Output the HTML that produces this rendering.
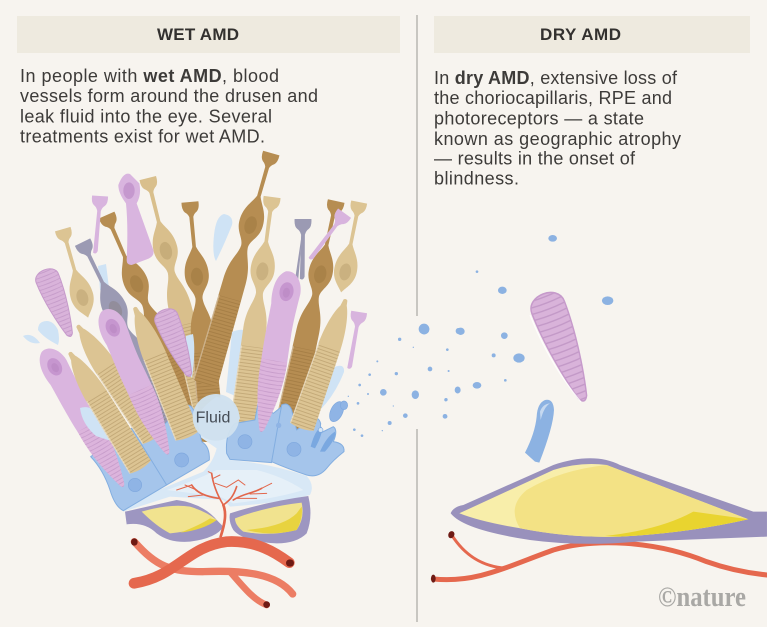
<!DOCTYPE html>
<html><head><meta charset="utf-8"><style>
html,body{margin:0;padding:0;background:#f7f4ef}
svg{display:block}
text{font-family:"Liberation Sans",sans-serif;fill:#3d3b39}
.b{font-size:18px}
.h{font-size:17px;font-weight:bold;fill:#33312f}
</style></head><body>
<svg width="767" height="627" viewBox="0 0 767 627" xmlns="http://www.w3.org/2000/svg">
<defs>
<pattern id="rib" patternUnits="userSpaceOnUse" width="30" height="3.4" x="-15" y="0"><rect width="30" height=".9" fill="#6b4a18" opacity=".24"/></pattern>
<pattern id="ribp" patternUnits="userSpaceOnUse" width="40" height="4" x="-20" y="0"><path d="M0,.5Q20,3.6 40,.5" fill="none" stroke="#a678b0" stroke-width=".8" opacity=".45"/></pattern>
<g id="s"><path fill="currentColor" d="M-8.5,-1L8.5,-1Q9,6 6,9Q3,11 2,14L1.8,44C5,52 12,58 12,72C12,84 4,90 0,96C-4,90 -12,84 -12,72C-12,58 -5,52 -1.8,44L-2,14Q-3,11 -6,9Q-9,6 -8.5,-1Z"/><ellipse cy="74" rx="6" ry="9" fill="#5a3d10" opacity=".14"/></g>
<g id="f"><path fill="currentColor" d="M-8.5,-1L8.5,-1Q9,6 6,9Q3,11 2,14L1.8,44C5,52 12,58 12,72C12,84 4,88 3.5,96C4,106 11,112 11.5,132L12.5,238Q0,242 -12.5,238L-11.5,132C-11,112 -4,106 -3.5,96C-4,88 -12,84 -12,72C-12,58 -5,52 -1.8,44L-2,14Q-3,11 -6,9Q-9,6 -8.5,-1Z"/><ellipse cy="74" rx="6" ry="9" fill="#5a3d10" opacity=".14"/><path d="M-11.5,150L11.5,150L12.5,238Q0,242 -12.5,238Z" fill="url(#rib)"/><path d="M-11,150L-12,238" stroke="#fff" stroke-opacity=".35" stroke-width="1.3"/></g>
<g id="t"><path fill="currentColor" d="M-2,0Q0,-2 2,0L3,5C6,10 11,26 11.5,50L12.5,134Q0,138 -12.5,134L-11.5,50C-11,30 -7,14 -3,7Z"/><path d="M-11.5,50L11.5,50L12.5,134Q0,138 -12.5,134Z" fill="url(#rib)"/><path d="M-11,50L-12,134" stroke="#fff" stroke-opacity=".4" stroke-width="1.2"/></g>
<g id="p"><path fill="#dab5df" d="M-4,0C6,-3 14,8 14,20C13,34 12,45 12,60L13,92L-13,92C-14,70 -13,45 -13,34C-15,22 -14,6 -4,0Z"/><path d="M-13,90L13,90C14,115 8,140 2,160Q-1,165 -3,160C-9,140 -14,115 -13,90Z" fill="#dcb4dc"/><path d="M-13,90L13,90C14,115 8,140 2,160Q-1,165 -3,160C-9,140 -14,115 -13,90Z" fill="url(#ribp)"/><ellipse cx="0" cy="20" rx="7" ry="9.5" fill="#c696cf"/><ellipse cx="0" cy="21" rx="3.5" ry="5" fill="#b684c0" opacity=".5"/></g>
<g id="c"><path fill="#d9b3da" d="M-12,9C-12,-3 12,-3 12,9C12,30 7,55 3,69Q0,74 -3,69C-7,55 -12,30 -12,9Z"/><path fill="url(#ribp)" d="M-12,9C-12,-3 12,-3 12,9C12,30 7,55 3,69Q0,74 -3,69C-7,55 -12,30 -12,9Z"/><path fill="none" stroke="#c69acb" stroke-width="1" d="M-12,9C-12,-3 12,-3 12,9C12,30 7,55 3,69Q0,74 -3,69C-7,55 -12,30 -12,9Z"/></g>
<g id="n"><path fill="currentColor" d="M-8,-1L8,-1Q8.5,6 5.5,8.5Q3,10 1.8,14L1.5,54Q0,58 -3,56L-1.8,14Q-3,10 -5.5,8.5Q-8.5,6 -8,-1Z"/></g>
</defs>
<rect width="767" height="627" fill="#f7f4ef"/>
<rect x="17" y="16" width="383" height="37" fill="#eeeadf"/>
<rect x="434" y="16" width="316" height="37" fill="#eeeadf"/>
<rect x="416" y="15" width="2" height="301" fill="#c8c6c1"/>
<rect x="416" y="429" width="2" height="193" fill="#c8c6c1"/>
<text class="h" x="157" y="40" textLength="82">WET AMD</text>
<text class="h" x="540" y="40" textLength="81">DRY AMD</text>
<text class="b" x="20" y="82" textLength="259">In people with <tspan font-weight="bold">wet AMD</tspan>, blood</text>
<text class="b" x="20" y="102" textLength="298">vessels form around the drusen and</text>
<text class="b" x="20" y="122.5" textLength="252">leak fluid into the eye. Several</text>
<text class="b" x="20" y="142.5" textLength="245">treatments exist for wet AMD.</text>
<text class="b" x="434" y="84" textLength="243">In <tspan font-weight="bold">dry AMD</tspan>, extensive loss of</text>
<text class="b" x="434" y="104" textLength="238">the choriocapillaris, RPE and</text>
<text class="b" x="434" y="124.5" textLength="210">photoreceptors — a state</text>
<text class="b" x="434" y="145" textLength="247">known as geographic atrophy</text>
<text class="b" x="434" y="164.5" textLength="201">— results in the onset of</text>
<text class="b" x="434" y="184.5" textLength="85">blindness.</text>

<!-- pale drops behind -->
<g fill="#cfe3f5">
<path d="M224,214Q234,216 232,225Q224,245 216,261Q212,255 214,235Q216,216 224,214Z"/>
<path d="M23,336Q32,332 40,343Q30,345 23,336ZM42,322Q52,318 58,330Q60,340 58,345Q44,338 38,330Q38,324 42,322Z"/>
<path d="M98,266L106,264Q108,280 110,296L100,290Z"/>
</g>

<!-- back cells -->
<use href="#f" transform="translate(83,243) rotate(-26)" color="#9b9ab3"/>
<use href="#f" transform="translate(107,216) rotate(-23.6)" color="#b68d52"/>
<use href="#f" transform="translate(148,179) rotate(-14)" color="#d9bf8c"/>
<use href="#f" transform="translate(190,203) rotate(-5.4)" color="#b68d52"/>
<path d="M186,336L193,334Q196,350 192,378L186,370Z" fill="#cfe3f5"/>
<use href="#f" transform="translate(271,154) rotate(16)" color="#b68d52"/>
<path d="M232,332Q246,326 252,336Q254,345 250,360L245,400L226,392Z" fill="#cfe3f5"/>
<use href="#f" transform="translate(272,198) rotate(7.5)" color="#dcc493"/>
<use href="#f" transform="translate(336,202) rotate(12.3)" color="#b68d52"/>
<path d="M303,226L298,282L278,300Q262,345 256,420L270,420L292,300Z" fill="#9b9ab3"/>
<use href="#n" transform="translate(303,220) scale(1.05)" color="#9b9ab3"/>
<use href="#s" transform="translate(359,203) rotate(11.3) scale(.95)" color="#dcc493"/>
<use href="#s" transform="translate(63,230) rotate(-16) scale(.95)" color="#dcc493"/>
<use href="#n" transform="translate(100,197) rotate(4)" color="#d8b4de"/>
<use href="#n" transform="translate(344,214) rotate(36)" color="#d8b4de"/>
<use href="#n" transform="translate(359,313) rotate(9)" color="#d8b4de"/>
<g transform="translate(20,150) scale(.3333)"><path fill="#d9b5df" d="M295,105Q310,65 330,72L358,100Q365,135 350,160L400,300Q405,320 380,328L335,345Q320,345 320,330Q325,230 318,160Q295,130 295,105Z"/><ellipse cx="327" cy="122" rx="17" ry="25" fill="#c598ce"/></g>
<use href="#c" transform="translate(44,270) rotate(-21.8)"/>
<path d="M332,368Q345,362 344,372Q335,395 320,410L312,400Z" fill="#cfe3f5"/>

<!-- fluid + blue cells -->
<g transform="translate(70,390) scale(.3333)">
<path fill="#d8e8f6" d="M160,345Q290,290 400,245Q430,215 440,175L375,130Q365,70 440,20Q505,40 510,85Q480,120 470,190L480,210Q600,220 710,258Q735,285 720,315Q620,340 480,350L460,330L300,320L160,365Z"/>
<path fill="#e6f0f8" d="M290,300Q380,270 440,240L560,240Q640,260 700,300Q620,325 490,340L450,320Z"/>
<g fill="#a5c5eb" stroke="#83aee0" stroke-width="3" stroke-linejoin="round">
<path d="M62,200L118,160L185,115L225,130L290,285L160,362Q135,350 120,300Q100,240 62,200Z"/>
<path d="M185,115L215,100Q240,100 250,130L340,55Q360,30 375,70L395,155Q420,170 418,210L290,285Z"/>
<path d="M470,190Q465,130 495,100L555,90L565,35L610,70L635,50L605,218L480,208Z"/>
<path d="M635,45Q655,35 665,60L680,120L720,90Q745,75 752,100L750,130L770,120L790,110Q805,120 790,155Q825,160 822,185Q790,210 770,235Q745,265 710,255Q650,235 605,215Z"/>
</g>
<g fill="#8fb4e5" stroke="#7fa8de" stroke-width="2">
<circle cx="195" cy="285" r="20"/><circle cx="335" cy="210" r="21"/><circle cx="525" cy="155" r="21"/><circle cx="672" cy="178" r="21"/>
</g>
<path fill="#7aa8e0" d="M722,170Q735,120 755,110Q760,130 735,175ZM750,185Q770,140 795,125Q800,145 765,185Z"/>
<ellipse cx="800" cy="65" rx="18" ry="32" transform="rotate(25 800 65)" fill="#8fb4e5" stroke="#7fa8de" stroke-width="2"/>
<ellipse cx="822" cy="46" rx="11" ry="13" fill="#8fb4e5" stroke="#7fa8de" stroke-width="2"/>
<circle cx="626" cy="106" r="8" fill="#8fb4e5"/><circle cx="752" cy="120" r="7" fill="#d8e8f6" stroke="#7fa8de" stroke-width="2"/>
</g>

<!-- front cells -->
<use href="#t" transform="translate(78,326) rotate(-34)" color="#dcc493"/>
<use href="#t" transform="translate(345.5,300) rotate(19)" color="#dcc493"/>
<use href="#p" transform="translate(290,272) rotate(10)"/>
<use href="#p" transform="translate(105,310) rotate(-23.8) scale(.97)"/>
<use href="#t" transform="translate(135,308) rotate(-22.3) scale(1.03)" color="#dcc493"/>
<use href="#p" transform="translate(45,350) rotate(-30) scale(.97)"/>
<path d="M80,408Q92,404 100,418L114,442L96,436Q82,424 80,408Z" fill="#cfe3f5"/>
<use href="#t" transform="translate(70,353) rotate(-31.6)" color="#dcc493"/>
<use href="#c" transform="translate(163,310) rotate(-22)"/>

<g transform="translate(70,390) scale(.3333)">
<circle cx="438" cy="82" r="70" fill="#cfe1ee" opacity=".96"/>
<!-- lenses -->
<path fill="#9d96c1" d="M165,365L320,330Q400,340 445,395L460,410Q440,445 360,455Q300,460 260,430Q225,395 170,403Z"/>
<path fill="#f1e38f" d="M215,365Q300,340 360,350Q410,365 440,390Q400,420 300,430Q260,410 215,365Z"/>
<path fill="#e8d33f" d="M330,428Q390,405 420,385L440,390Q400,420 330,428Z"/>
<path fill="#9d96c1" d="M480,370Q590,335 715,318Q730,380 710,430Q680,460 620,460Q520,455 490,420Q475,395 480,370Z"/>
<path fill="#f1e38f" d="M495,385Q590,350 695,338Q705,385 680,420Q600,440 520,425Q495,405 495,385Z"/>
<path fill="#e8d33f" d="M530,420Q640,410 680,370L695,350Q700,385 680,420Q600,440 530,420Z"/>
<!-- capillaries -->
<g fill="none" stroke="#e2674c" stroke-linecap="round">
<path stroke-width="8" d="M452,440C465,400 470,370 460,345"/>
<path stroke-width="5" d="M460,345C445,320 430,290 425,250M460,345C480,330 490,320 500,290M490,330C520,310 550,310 575,295M445,325C410,320 380,310 365,285"/>
<path stroke-width="3" d="M425,250L415,245M436,280L470,292L505,270L525,285M575,295L605,280M500,325L560,325M540,312L590,310M365,285L320,300M400,315L355,320M380,300L345,285M430,265L450,255"/>
</g>
<!-- vessels -->
<g fill="none" stroke-linecap="round">
<path stroke="#ec7d64" stroke-width="22" d="M193,455C260,530 300,545 400,545C520,540 620,550 668,612"/>
<path stroke="#ec7d64" stroke-width="20" d="M480,545C520,590 550,630 590,645"/>
<path stroke="#e5684e" stroke-width="32" d="M192,580C320,560 350,470 470,455C560,450 620,490 658,518"/>
</g>
<g fill="#6e1a14"><ellipse cx="193" cy="456" rx="10" ry="11"/><ellipse cx="660" cy="519" rx="12" ry="11"/><ellipse cx="590" cy="644" rx="10" ry="10"/></g>
</g>
<text x="213" y="422.5" text-anchor="middle" font-size="16" style="fill:#454c55">Fluid</text>

<!-- droplets -->
<g transform="translate(330,280) scale(.3333)" fill="#8cb2e2">
<circle cx="283" cy="148" r="15"/><ellipse cx="385" cy="153" rx="8" ry="9"/><circle cx="209" cy="178" r="5"/><circle cx="250" cy="202" r="2"/><circle cx="352" cy="209" r="4"/><circle cx="142" cy="244" r="3"/><circle cx="300" cy="267" r="7"/><circle cx="356" cy="273" r="3"/><circle cx="199" cy="281" r="5"/><circle cx="119" cy="284" r="4"/><circle cx="89" cy="315" r="4"/><ellipse cx="160" cy="337" rx="10" ry="10"/><ellipse cx="256" cy="344" rx="11" ry="13"/><ellipse cx="383" cy="330" rx="8" ry="10"/><circle cx="114" cy="342" r="3"/><circle cx="348" cy="359" r="5"/><circle cx="84" cy="370" r="4"/><circle cx="226" cy="407" r="7"/><circle cx="345" cy="409" r="7"/><circle cx="179" cy="429" r="6"/><circle cx="73" cy="449" r="4"/><circle cx="96" cy="467" r="4"/><circle cx="190" cy="378" r="2"/><circle cx="157" cy="452" r="2"/><circle cx="55" cy="349" r="2"/>
</g>
<g transform="translate(420,230) scale(.3333)">
<g fill="#8cb2e2">
<ellipse cx="398" cy="25" rx="13" ry="10"/><circle cx="171" cy="125" r="4"/><ellipse cx="247" cy="181" rx="13" ry="11"/><ellipse cx="563" cy="212" rx="17" ry="13"/><ellipse cx="12" cy="297" rx="16" ry="16"/><ellipse cx="122" cy="304" rx="12" ry="11"/><ellipse cx="253" cy="317" rx="10" ry="10"/><circle cx="82" cy="358" r="3"/><circle cx="221" cy="376" r="6"/><ellipse cx="297" cy="384" rx="17" ry="14"/><circle cx="30" cy="417" r="6"/><circle cx="85" cy="423" r="2"/><ellipse cx="113" cy="480" rx="9" ry="10"/><ellipse cx="171" cy="466" rx="13" ry="10"/><circle cx="256" cy="451" r="4"/><circle cx="77" cy="510" r="4"/><ellipse cx="76" cy="560" rx="6" ry="5"/>
<path d="M350,560Q352,520 375,510Q400,505 402,540Q400,590 358,698L345,695L315,668Q345,610 350,560Z"/>
</g>
<path d="M360,545Q368,522 390,520Q372,530 362,570Z" fill="#c6d9f0"/>
<g fill="none" stroke-linecap="round">
<path stroke="#e5684e" stroke-width="15" d="M40,1047C170,1060 260,1010 400,960C520,925 700,930 860,995C930,1020 990,1030 1041,1035"/>
<path stroke="#e5684e" stroke-width="9" d="M95,915C130,970 180,1010 260,1015"/>
</g>
<ellipse cx="40" cy="1046" rx="7" ry="12" fill="#6e1a14"/>
<ellipse cx="94" cy="914" rx="9" ry="11" fill="#6e1a14" transform="rotate(25 94 914)"/>
<path fill="#9991bc" d="M92,850Q100,830 130,825L400,705Q520,665 600,705L1000,845L1041,845L1041,920L650,935Q480,950 330,930Q130,900 92,850Z"/>
<path fill="#f8eeaa" d="M118,850L400,720Q480,695 560,705L985,868Q800,910 600,920Q450,925 300,895Q180,875 118,850Z"/>
<path fill="#f3e285" d="M300,895Q260,830 320,780Q420,720 560,705L985,868Q800,910 600,920Q450,925 300,895Z"/>
<path fill="#e9d42f" d="M555,918Q720,900 820,845L985,868Q800,910 600,920Z"/>
</g>
<use href="#c" transform="translate(543,294) rotate(-21) scale(1.45,1.6)"/>
<path d="M530,315Q550,365 581,402" fill="none" stroke="#fff" stroke-opacity=".8" stroke-width="1.2"/>
<text x="658" y="606" font-size="28" font-weight="bold" textLength="88" lengthAdjust="spacingAndGlyphs" style="font-family:'Liberation Serif',serif;fill:#a9a8a5">©nature</text>
</svg>
</body></html>
